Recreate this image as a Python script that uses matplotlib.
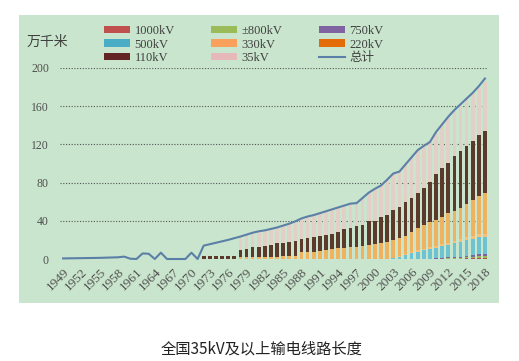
import numpy as np
import matplotlib
matplotlib.use("Agg")
import matplotlib.pyplot as plt
from matplotlib.patches import Rectangle, Patch
from matplotlib.lines import Line2D

plt.rcParams['font.family'] = ['Liberation Serif', 'Noto Sans CJK SC']

# all years on the axis
years = list(range(1949, 2019))

# total length (万千米), 1949-2018
total = [0.6, 0.7, 0.8, 0.9, 1.0, 1.1, 1.2, 1.4, 1.6, 1.8,
         2.5, 0.3, 0.0, 5.8, 5.5, 0.0, 6.6, 0.0, 0.0, 0.0,
         0.0, 6.6, 0.0, 14.0, 15.5, 17.0, 18.5, 20.0, 21.8, 23.5,
         25.5, 27.5, 29.0, 30.0, 31.5, 33.0, 35.0, 37.0, 39.5, 42.5,
         44.5, 46.0, 48.0, 50.0, 52.0, 54.0, 56.0, 58.0, 58.5, 64.0,
         69.5, 73.5, 77.0, 83.0, 89.5, 91.5, 99.0, 106.5, 114.0, 118.5,
         122.5, 133.0, 141.0, 149.0, 156.0, 162.0, 168.0, 174.0, 181.0, 189.0]

# bars by voltage level, 1972-2018
bar_years = list(range(1972, 2019))
kv1000 = [0] * 37 + [0.1, 0.1, 0.1, 0.2, 0.3, 0.4, 0.6, 0.8, 1.0, 1.1]
kv800 = [0] * 38 + [0.3, 0.4, 0.6, 0.6, 0.9, 1.0, 1.5, 2.2, 2.4]
kv750 = [0] * 34 + [0.1, 0.1, 0.1, 0.2, 0.3, 0.6, 0.9, 1.0, 1.2, 1.4, 1.6, 1.8, 1.9]
kv500 = [0] * 31 + [1.0, 2.0, 4.0, 5.9, 7.7, 9.3, 10.3, 11.2, 12.2, 13.0,
                    14.5, 15.6, 16.9, 17.5, 17.8, 18.0]
kv330 = [0] * 32 + [0.9, 1.0, 1.1, 1.3, 1.4, 1.6, 1.8, 2.0, 2.2, 2.4,
                    2.5, 2.7, 2.9, 3.0, 3.2]
kv220 = [0.5, 0.5, 0.5, 0.5, 0.5, 0.5, 1.8, 2.0, 2.2, 2.3,
         2.4, 2.5, 2.6, 2.7, 2.8, 3.0, 7.7, 7.7, 7.8, 8.5,
         9.4, 10.2, 11.2, 11.7, 12.2, 12.9, 13.6, 14.5, 15.4, 16.7,
         18.1, 18.9, 18.8, 19.4, 21.5, 22.9, 24.8, 26.8, 27.1, 29.0,
         30.9, 31.8, 33.1, 34.7, 37.5, 40.5, 42.8]
kv110 = [2.5, 2.5, 2.5, 2.5, 2.5, 2.5, 7.6, 8.5, 10.0, 10.6,
         11.2, 12.0, 13.8, 14.3, 14.7, 16.0, 12.8, 14.0, 15.6, 15.9,
         15.7, 16.0, 17.4, 19.4, 19.9, 21.7, 22.0, 25.3, 24.4, 27.6,
         28.0, 31.4, 33.1, 34.9, 34.9, 37.5, 39.1, 42.0, 48.6, 51.4,
         53.1, 57.6, 59.7, 61.4, 62.1, 63.5, 64.6]
kv35 = [0, 0, 0, 0, 0, 0, 14.1, 15.0, 15.3, 16.1,
        16.4, 17.0, 16.6, 18.0, 19.5, 20.5, 22.0, 22.8, 22.6, 23.6,
        24.9, 25.8, 25.4, 24.9, 25.9, 23.9, 28.4, 29.7, 33.7, 32.7,
        36.9, 38.2, 36.7, 39.7, 43.0, 44.5, 43.8, 41.5, 42.6, 44.3,
        47.1, 46.8, 47.6, 48.3, 49.1, 49.2, 51.5]

labels = ['1000kV', '±800kV', '750kV', '500kV', '330kV', '220kV', '110kV', '35kV']
series = [kv1000, kv800, kv750, kv500, kv330, kv220, kv110, kv35]
bar_colors = ['#B0504D', '#9BBB59', '#8064A2', '#6DC3D0', '#F9C07A',
              '#EFB25E', '#5B3A2C', '#E3CFC6']
legend_colors = ['#C0504D', '#9BBB59', '#8064A2', '#4BACC6', '#F8A05C',
                 '#E36C09', '#632523', '#E6B9B8']
line_color = '#5B80A8'

fig = plt.figure(figsize=(5.19, 3.61), dpi=100)
fig.patches.append(Rectangle((19 / 519, 1 - 303 / 361), 480 / 519, 288 / 361,
                             transform=fig.transFigure, facecolor='#C9E5CD',
                             edgecolor='none', zorder=-10))

ax = fig.add_axes([60 / 519, 1 - 259 / 361, 428 / 519, 191 / 361])
ax.set_facecolor('none')

xb = np.array([y - 1949 for y in bar_years])
bottom = np.zeros(len(bar_years))
for vals, c in zip(series, bar_colors):
    vals = np.array(vals, dtype=float)
    ax.bar(xb, vals, width=0.6, bottom=bottom, color=c, linewidth=0, zorder=2)
    bottom += vals

ax.plot(range(len(years)), total, color=line_color, lw=1.5, zorder=3, clip_on=False)

ax.set_xlim(-0.5, len(years) - 0.5)
ax.set_ylim(0, 200)
ax.set_yticks(range(0, 201, 40))
ax.set_xticks(range(0, len(years), 3))
ax.set_xticklabels([str(y) for y in years[::3]], rotation=45, ha='right',
                   rotation_mode='anchor')
ax.tick_params(axis='both', length=0, labelcolor='#505050')
ax.tick_params(axis='y', pad=8, labelsize=8.5)
ax.tick_params(axis='x', pad=5, labelsize=9.5)
for s in ax.spines.values():
    s.set_visible(False)
ax.yaxis.grid(True, linestyle=(0, (1, 1.5)), color='#555555', linewidth=0.8)
ax.get_ygridlines()[0].set_visible(False)
ax.set_axisbelow(True)

# legend, filled column by column so rows read 1000/800/750 ...
handles = [Patch(facecolor=c, edgecolor='none') for c in legend_colors]
handles.append(Line2D([], [], color=line_color, lw=1.5))
names = labels + ['总计']
order = [0, 3, 6, 1, 4, 7, 2, 5, 8]
ax.legend([handles[i] for i in order], [names[i] for i in order], ncol=3,
          loc='upper left', bbox_to_anchor=(104 / 519, 1 - 25 / 361),
          bbox_transform=fig.transFigure, frameon=False, fontsize=9,
          handlelength=2.1, handleheight=0.55, handletextpad=0.35,
          columnspacing=2.9, labelspacing=0.12, borderaxespad=0, borderpad=0,
          labelcolor='#404040')

fig.text(27 / 519, 1 - 42 / 361, '万千米', ha='left', va='center', fontsize=10,
         family='Noto Sans CJK SC', color='#404040')
fig.text(262 / 519, 1 - 349 / 361, '全国35kV及以上输电线路长度', ha='center',
         va='center', fontsize=11, family='Noto Sans CJK SC', color='#222222')

fig.savefig('out.png', dpi=100)
